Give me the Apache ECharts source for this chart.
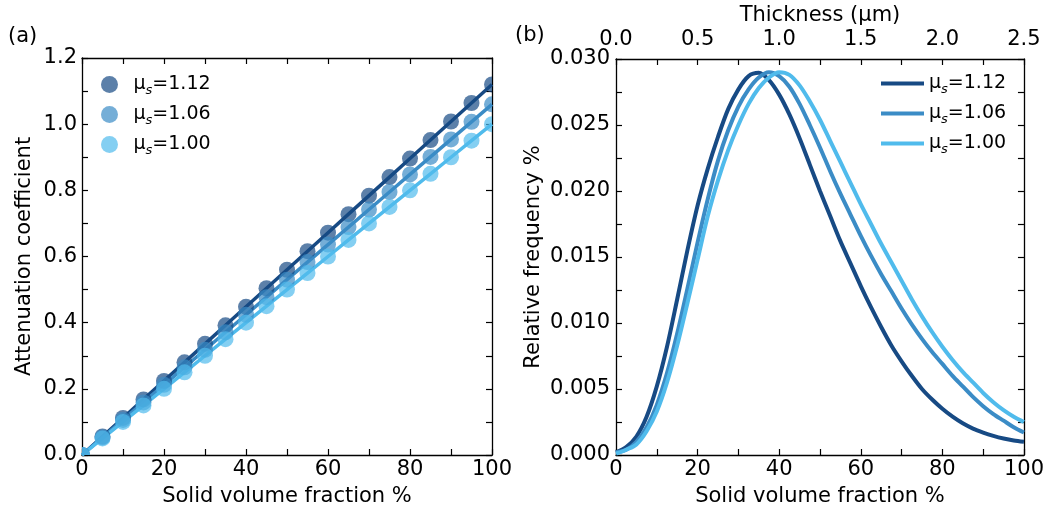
<!DOCTYPE html>
<html>
<head>
<meta charset="utf-8">
<script src="https://cdn.jsdelivr.net/npm/echarts@6/dist/echarts.min.js"></script>
<style>html,body{margin:0;padding:0;background:#fff;}#c{width:1047px;height:512px;}</style>
</head>
<body>
<div id="c"></div>
<script>
// ---- data ----
const muLabels = ['1.12', '1.06', '1.00'];
const colors = ['#174a84', '#3b8cc6', '#50bbec'];

// panel (a): solid volume fraction (%) vs attenuation coefficient
const fracA = [0, 5, 10, 15, 20, 25, 30, 35, 40, 45, 50, 55, 60, 65, 70, 75, 80, 85, 90, 95, 100];
const att112 = [0, 0.056, 0.112, 0.168, 0.224, 0.28, 0.336, 0.392, 0.448, 0.504, 0.56, 0.616, 0.672, 0.728, 0.784, 0.84, 0.896, 0.952, 1.008, 1.064, 1.12];
const att106 = [0, 0.053, 0.106, 0.159, 0.212, 0.265, 0.318, 0.371, 0.424, 0.477, 0.53, 0.583, 0.636, 0.689, 0.742, 0.795, 0.848, 0.901, 0.954, 1.007, 1.06];
const att100 = [0, 0.05, 0.10, 0.15, 0.20, 0.25, 0.30, 0.35, 0.40, 0.45, 0.50, 0.55, 0.60, 0.65, 0.70, 0.75, 0.80, 0.85, 0.90, 0.95, 1.00];

// panel (b): solid volume fraction (%) vs relative frequency %
const fracB = [0, 2.5, 5, 7.5, 10, 12.5, 15, 17.5, 20, 22.5, 25, 27.5, 30, 32.5, 35, 37.5, 40, 42.5, 45, 47.5, 50,
               52.5, 55, 57.5, 60, 62.5, 65, 67.5, 70, 72.5, 75, 77.5, 80, 82.5, 85, 87.5, 90, 92.5, 95, 97.5, 100];
const freq112 = [0.0002, 0.0006, 0.0014, 0.0029, 0.0052, 0.0082, 0.0118, 0.0155, 0.0189, 0.0217, 0.0241, 0.0262, 0.0277, 0.0287, 0.02895, 0.0284, 0.0273, 0.0258, 0.0240, 0.0220, 0.0200,
                 0.0181, 0.0162, 0.0145, 0.0128, 0.0112, 0.0097, 0.0083, 0.0071, 0.0060, 0.0050, 0.0042, 0.0035, 0.0029, 0.0024, 0.0020, 0.0017, 0.00145, 0.00125, 0.0011, 0.0010];
const freq106 = [0.0002, 0.0004, 0.0010, 0.0021, 0.0038, 0.0062, 0.0092, 0.0126, 0.0161, 0.0194, 0.0223, 0.0246, 0.0264, 0.0277, 0.0286, 0.0290, 0.0287, 0.0279, 0.0266, 0.0250, 0.0233,
                 0.0215, 0.0198, 0.0182, 0.0166, 0.0151, 0.0137, 0.0124, 0.0111, 0.0099, 0.0088, 0.0078, 0.0069, 0.0060, 0.0052, 0.0044, 0.0037, 0.0031, 0.0026, 0.0021, 0.0017];
const freq100 = [0.0001, 0.0004, 0.0008, 0.0018, 0.0033, 0.0055, 0.0083, 0.0115, 0.0148, 0.0181, 0.0208, 0.0231, 0.0250, 0.0266, 0.0278, 0.0286, 0.0290, 0.0288, 0.0280, 0.0268, 0.0254,
                 0.0238, 0.0222, 0.0206, 0.0190, 0.0175, 0.0160, 0.0146, 0.0132, 0.0118, 0.0105, 0.0093, 0.0082, 0.0072, 0.0063, 0.0055, 0.0047, 0.0040, 0.0034, 0.0029, 0.0025];

// axis tick labels (top axis of panel b)
const thickTicks = [0.0, 0.5, 1.0, 1.5, 2.0, 2.5];

const attSeries = [att112, att106, att100];
const freqSeries = [freq112, freq106, freq100];

// ---- chart ----
const FONT = 'DejaVu Sans';
const FS = 21;
const LFS = 19;
const chart = echarts.init(document.getElementById('c'), null, {renderer: 'canvas'});

function pairs(xs, ys) { return xs.map((x, i) => [x, ys[i]]); }

const axisBase = {
  axisLine: {show: true, onZero: false, lineStyle: {color: '#000', width: 1.3}},
  axisTick: {show: true, inside: true, length: 6, lineStyle: {color: '#000', width: 1.2}},
  splitLine: {show: false},
  nameTextStyle: {fontFamily: FONT, fontSize: FS, color: '#000'},
  nameLocation: 'middle',
  nameMoveOverlap: false
};
function lbl(formatter, margin) {
  return {show: true, fontFamily: FONT, fontSize: FS, color: '#000', margin: margin, formatter: formatter, hideOverlap: false};
}
const noLbl = {show: false};

const fracFmt = v => (Math.round(v) % 20 === 0 ? String(Math.round(v)) : '');

const rich = {
  m: {fontFamily: FONT, fontSize: LFS, color: '#000', lineHeight: 25, verticalAlign: 'middle'},
  s: {fontFamily: FONT, fontSize: 13, fontStyle: 'italic', color: '#000', lineHeight: 17, verticalAlign: 'bottom'}
};
const legFmt = name => '{m|μ}{s|s}{m|=' + name.slice(1) + '}';

const MARKER_R = 8;
const series = [];
muLabels.forEach((mu, i) => {
  series.push({
    type: 'line', name: 'L' + mu, xAxisIndex: 0, yAxisIndex: 0,
    data: pairs(fracA, attSeries[i]), showSymbol: false, symbol: 'none',
    lineStyle: {color: colors[i], width: 3.5}, itemStyle: {color: colors[i]},
    z: 2, animation: false
  });
});
muLabels.forEach((mu, i) => {
  series.push({
    type: 'custom', name: 'S' + mu, xAxisIndex: 0, yAxisIndex: 0,
    coordinateSystem: 'cartesian2d', clip: true,
    data: pairs(fracA, attSeries[i]),
    itemStyle: {color: colors[i], opacity: 0.7},
    encode: {x: 0, y: 1},
    renderItem: function (params, api) {
      const p = api.coord([api.value(0), api.value(1)]);
      return {
        type: 'circle',
        shape: {cx: p[0], cy: p[1], r: MARKER_R},
        style: {fill: colors[i], opacity: 0.7}
      };
    },
    z: 3, animation: false
  });
});
muLabels.forEach((mu, i) => {
  series.push({
    type: 'line', name: 'R' + mu, xAxisIndex: 2, yAxisIndex: 2,
    data: pairs(fracB, freqSeries[i]), showSymbol: false, symbol: 'none', smooth: 0.3,
    lineStyle: {color: colors[i], width: 4}, itemStyle: {color: colors[i]},
    z: 2, animation: false
  });
});

const option = {
  animation: false,
  backgroundColor: '#fff',
  grid: [
    {left: 82, top: 58, width: 410, height: 402, containLabel: false},
    {left: 616, top: 58, width: 411, height: 402, containLabel: false}
  ],
  xAxis: [
    Object.assign({}, axisBase, {gridIndex: 0, type: 'value', position: 'bottom', min: 0, max: 100, interval: 10,
      axisLabel: lbl(fracFmt, 4), name: 'Solid volume fraction %', nameGap: 31}),
    Object.assign({}, axisBase, {gridIndex: 0, type: 'value', position: 'top', min: 0, max: 100, interval: 10,
      axisLabel: noLbl}),
    Object.assign({}, axisBase, {gridIndex: 1, type: 'value', position: 'bottom', min: 0, max: 100, interval: 10,
      axisLabel: lbl(fracFmt, 4), name: 'Solid volume fraction %', nameGap: 31}),
    Object.assign({}, axisBase, {gridIndex: 1, type: 'value', position: 'top', min: 0, max: 2.5, interval: 0.25,
      axisLabel: lbl(v => {
        const t = thickTicks.find(k => Math.abs(k - v) < 1e-6);
        return t === undefined ? '' : t.toFixed(1);
      }, 9),
      name: 'Thickness (μm)', nameGap: 33})
  ],
  yAxis: [
    Object.assign({}, axisBase, {gridIndex: 0, type: 'value', position: 'left', min: 0, max: 1.2, interval: 0.1,
      axisLabel: lbl(v => (Math.round(v * 10) % 2 === 0 ? v.toFixed(1) : ''), 5),
      name: 'Attenuation coefficient', nameGap: 47}),
    Object.assign({}, axisBase, {gridIndex: 0, type: 'value', position: 'right', min: 0, max: 1.2, interval: 0.1,
      axisLabel: noLbl}),
    Object.assign({}, axisBase, {gridIndex: 1, type: 'value', position: 'left', min: 0, max: 0.03, interval: 0.0025,
      axisLabel: lbl(v => (Math.round(v / 0.0025) % 2 === 0 ? v.toFixed(3) : ''), 6),
      name: 'Relative frequency %', nameGap: 72}),
    Object.assign({}, axisBase, {gridIndex: 1, type: 'value', position: 'right', min: 0, max: 0.03, interval: 0.0025,
      axisLabel: noLbl})
  ],
  legend: [
    {
      data: muLabels.map(m => ({name: 'S' + m, itemStyle: {color: colors[muLabels.indexOf(m)], opacity: 0.7}})),
      orient: 'vertical', left: 101, top: 75, padding: 0,
      icon: 'circle', itemWidth: 38, itemHeight: 17, itemGap: 8,
      formatter: legFmt, textStyle: {rich: rich, fontFamily: FONT, fontSize: LFS},
      selectedMode: false
    },
    {
      data: muLabels.map(m => 'R' + m), orient: 'vertical', left: 881, top: 74, padding: 0,
      icon: 'rect', itemWidth: 43, itemHeight: 4, itemGap: 8,
      formatter: legFmt, textStyle: {rich: rich, fontFamily: FONT, fontSize: LFS},
      selectedMode: false
    }
  ],
  graphic: [
    {type: 'text', left: 8, top: 26, style: {text: '(a)', fontFamily: FONT, fontSize: FS, fill: '#000'}},
    {type: 'text', left: 515, top: 25, style: {text: '(b)', fontFamily: FONT, fontSize: FS, fill: '#000'}}
  ],
  series: series
};
chart.setOption(option);
</script>
</body>
</html>
